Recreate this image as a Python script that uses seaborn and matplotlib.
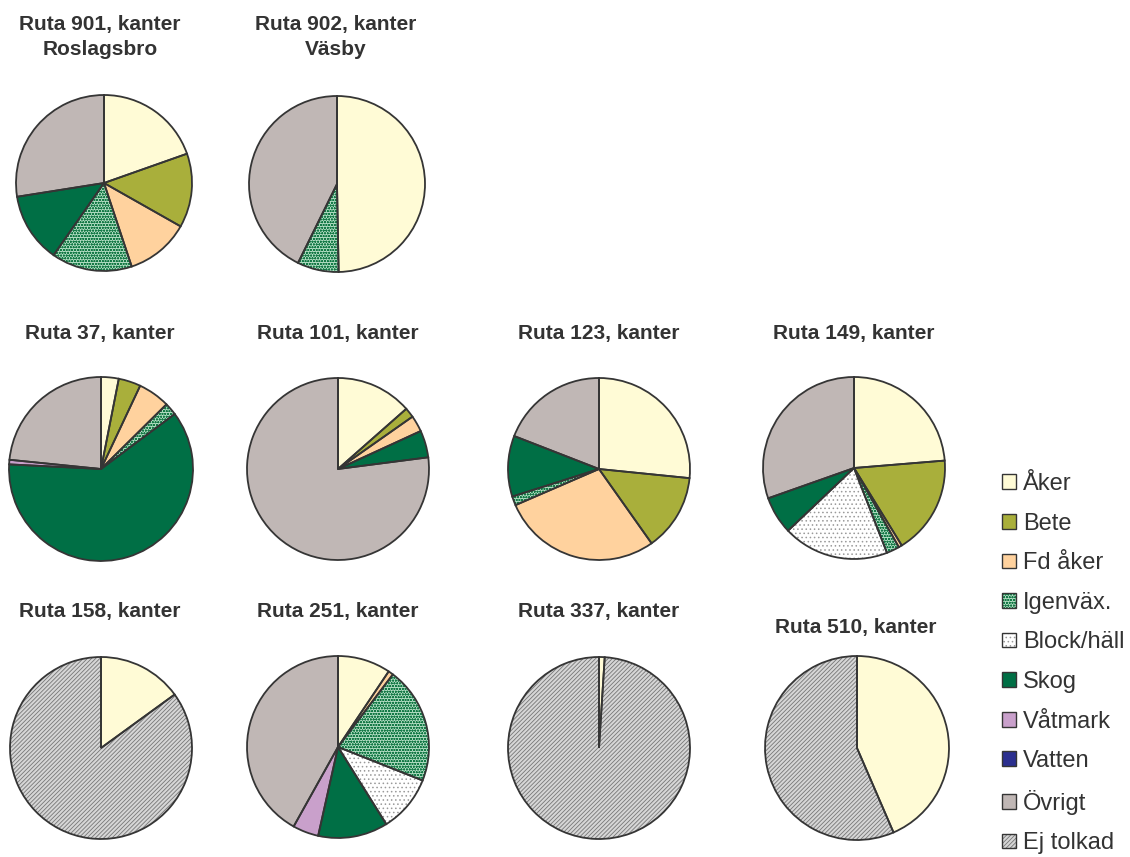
import seaborn as sns
import numpy as np
import pandas as pd
import matplotlib
matplotlib.use('Agg')
from matplotlib import pyplot as plt
from matplotlib.patches import Patch
from matplotlib.legend_handler import HandlerTuple

sns.set_theme(style="white")
plt.rcParams['font.family'] = ['Liberation Sans', 'DejaVu Sans']
plt.rcParams['hatch.linewidth'] = 0.6

# land cover classes (legend order)
categories = ["Åker", "Bete", "Fd åker", "Igenväx.", "Block/häll",
              "Skog", "Våtmark", "Vatten", "Övrigt", "Ej tolkad"]

# share (%) per class
ruta_901 = [19.6, 13.6, 11.7, 14.8, 0, 12.8, 0, 0, 27.5, 0]
ruta_902 = [49.7, 0, 0, 7.6, 0, 0, 0, 0, 42.7, 0]
ruta_37 = [3.1, 3.9, 5.6, 2.2, 0, 61.0, 0.8, 0, 23.4, 0]
ruta_101 = [13.5, 1.75, 2.9, 0, 0, 4.8, 0, 0, 77.05, 0]
ruta_123 = [26.6, 13.6, 28.3, 1.6, 0, 10.8, 0, 0, 19.1, 0]
ruta_149 = [23.7, 17.5, 0.6, 2.3, 18.8, 6.7, 0, 0, 30.4, 0]
ruta_158 = [15.0, 0, 0, 0, 0, 0, 0, 0, 0, 85.0]
ruta_251 = [9.4, 0, 0.9, 20.7, 10.1, 12.4, 4.6, 0, 41.9, 0]
ruta_337 = [1.0, 0, 0, 0, 0, 0, 0, 0, 0, 99.0]
ruta_510 = [43.5, 0, 0, 0, 0, 0, 0, 0, 0, 56.5]

titles = ["Ruta 901, kanter\nRoslagsbro", "Ruta 902, kanter\nVäsby",
          "Ruta 37, kanter", "Ruta 101, kanter", "Ruta 123, kanter", "Ruta 149, kanter",
          "Ruta 158, kanter", "Ruta 251, kanter", "Ruta 337, kanter", "Ruta 510, kanter"]
data = pd.DataFrame([ruta_901, ruta_902, ruta_37, ruta_101, ruta_123, ruta_149,
                     ruta_158, ruta_251, ruta_337, ruta_510], columns=categories, index=titles)

face = ['#FFFBD6', '#A9AF3B', '#FFD29E', '#B4DEC4', '#FFFFFF',
        '#006F45', '#C9A0CB', '#2B2F8F', '#C0B7B5', '#D6D6D6']
hatch = [None, None, None, 'oooooo', '....', None, None, None, None, '////////']
hatch_col = [None, None, None, '#157A47', '#9A9A9A', None, None, None, None, '#767676']
edge = '#353535'

W, H = 1130, 857
fig = plt.figure(figsize=(W / 100, H / 100), dpi=100)

# pie centres / radii / title positions in pixels
cx = [104, 337, 101, 338, 599, 854, 101, 338, 599, 857]
cy = [183, 184, 469, 469, 469, 468, 748, 747, 748, 748]
rad = [88, 88, 92, 91, 91, 91, 91, 91, 91, 92]
tx = [100, 336, 100, 338, 599, 854, 100, 338, 599, 856]
ty = [37, 37, 333, 333, 333, 333, 612, 612, 612, 627]

for i, name in enumerate(titles):
    r = rad[i] * 1.02
    ax = fig.add_axes([(cx[i] - r) / W, 1 - (cy[i] + r) / H, 2 * r / W, 2 * r / H])
    vals = data.loc[name].values
    keep = [k for k in range(len(categories)) if vals[k] > 0]
    v = [vals[k] for k in keep]
    wedges, _ = ax.pie(v, colors=[face[k] for k in keep], startangle=90, counterclock=False,
                       wedgeprops=dict(linewidth=0))
    for w, k in zip(wedges, keep):
        if hatch[k]:
            w.set_hatch(hatch[k])
            w.set_edgecolor(hatch_col[k])
    ax.pie(v, startangle=90, counterclock=False,
           wedgeprops=dict(fill=False, edgecolor=edge, linewidth=1.3))
    ax.set_xlim(-1.02, 1.02)
    ax.set_ylim(-1.02, 1.02)
    fig.text(tx[i] / W, 1 - ty[i] / H, name, ha='center', va='center', fontsize=15,
             fontweight='bold', color='#333333', linespacing=1.45)

handles = []
for k in range(len(categories)):
    if hatch[k]:
        handles.append((Patch(facecolor=face[k], hatch=hatch[k], edgecolor=hatch_col[k], lw=0),
                        Patch(fill=False, edgecolor=edge, lw=1)))
    else:
        handles.append(Patch(facecolor=face[k], edgecolor=edge, lw=1))

fig.legend(handles, categories, handler_map={tuple: HandlerTuple(ndivide=1)},
           loc='upper left', bbox_to_anchor=(1002 / W, 1 - 473 / H), frameon=False,
           fontsize=17, handlelength=0.58, handleheight=0.58, handletextpad=0.3,
           labelspacing=0.745, borderpad=0, borderaxespad=0, labelcolor='#333333')

plt.savefig('out.png', dpi=100)
